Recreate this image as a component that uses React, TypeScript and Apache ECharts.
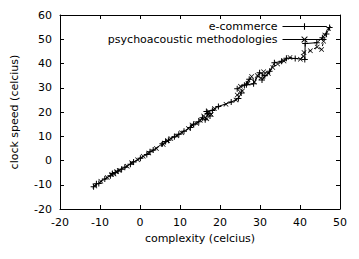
import React, { useEffect, useRef } from "react";
import * as echarts from "echarts";

const seriesNames = ["e-commerce", "psychoacoustic methodologies"];

const eCommerce: [number, number][] = [
  [-11.6, -10.8], [-10.9, -9.6], [-10.3, -9.5], [-8.8, -7.6], [-7.4, -6.3], [-6.9, -5.4],
  [-6.2, -5.0], [-5.5, -4.3], [-4.6, -3.6], [-3.8, -2.8], [-2.4, -1.5], [-1.6, -0.6],
  [0.1, 0.9], [1.7, 2.5], [2.5, 3.6], [3.3, 4.3], [5.6, 6.9], [6.4, 7.8], [7.1, 8.4],
  [8.6, 9.8], [9.7, 10.8], [11.0, 12.1], [12.6, 13.6], [13.4, 14.9], [14.7, 16.0],
  [15.6, 17.6], [16.3, 16.8], [16.9, 19.4], [17.5, 18.4], [16.6, 20.2], [18.1, 20.6],
  [19.6, 22.3], [22.8, 24.1], [24.6, 25.6], [25.3, 27.8], [24.3, 29.6], [26.1, 31.0],
  [27.3, 33.5], [26.6, 31.2], [28.4, 31.6], [29.9, 36.2], [31.2, 35.0], [30.5, 33.2],
  [32.4, 36.8], [33.6, 40.3], [35.4, 40.9], [36.6, 42.2], [38.8, 42.1], [41.2, 41.6],
  [41.3, 48.2], [44.2, 48.6], [45.6, 50.6], [46.6, 52.2], [47.4, 54.8],
];

const psychoacoustic: [number, number][] = [
  [-11.3, -10.5], [-9.8, -8.6], [-8.2, -7.0], [-7.1, -5.8], [-6.5, -5.6], [-5.9, -4.6],
  [-5.2, -4.1], [-3.2, -2.4], [-2.1, -0.9], [-0.6, 0.3], [0.8, 1.8], [2.2, 3.1],
  [4.1, 5.0], [5.8, 6.6], [6.9, 8.1], [7.7, 9.1], [9.2, 10.2], [10.4, 11.4], [12.1, 13.2],
  [13.0, 14.6], [14.2, 15.3], [15.1, 16.6], [15.9, 18.3], [16.7, 17.2], [17.3, 20.1],
  [17.8, 19.0], [18.6, 21.4], [21.5, 23.2], [24.0, 24.9], [24.3, 27.0], [25.6, 28.7],
  [25.1, 30.6], [27.0, 31.9], [27.9, 34.6], [28.6, 32.4], [29.3, 35.1], [30.2, 34.0],
  [30.9, 36.6], [32.1, 35.9], [33.2, 38.4], [34.4, 39.8], [36.0, 41.0], [37.5, 42.5],
  [40.1, 41.8], [40.8, 43.0], [41.0, 44.5], [42.6, 45.3], [44.3, 46.8], [45.4, 45.8],
  [45.9, 49.2], [46.2, 51.8], [47.1, 54.4],
];

const xTicks = { min: -20, max: 50, interval: 10 };
const yTicks = { min: -20, max: 60, interval: 10 };

const PLUS = "path://M2.5,0 H3.5 V2.5 H6 V3.5 H3.5 V6 H2.5 V3.5 H0 V2.5 H2.5 Z";
const CROSS =
  "path://M0,0.6 L0.6,0 L3,2.4 L5.4,0 L6,0.6 L3.6,3 L6,5.4 L5.4,6 L3,3.6 L0.6,6 L0,5.4 L2.4,3 Z";

const FONT = "DejaVu Sans";

export default function App() {
  const ref = useRef<HTMLDivElement>(null);
  useEffect(() => {
    if (!ref.current) return;
    const chart = echarts.init(ref.current, null, { renderer: "svg" });
    const axisCommon = {
      type: "value" as const,
      axisLine: { show: true, onZero: false, lineStyle: { color: "#000", width: 1 } },
      axisTick: { show: true, inside: true, length: 4, lineStyle: { color: "#000" } },
      splitLine: { show: false },
    };
    chart.setOption({
      animation: false,
      backgroundColor: "#fff",
      textStyle: { fontFamily: FONT },
      grid: { left: 60, top: 15, width: 280, height: 194, containLabel: false },
      legend: {
        orient: "vertical",
        right: 27,
        top: 16,
        align: "right",
        itemWidth: 44,
        itemHeight: 8,
        itemGap: 2,
        lineStyle: { width: 1, type: "solid", color: "#000" },
        textStyle: { fontFamily: FONT, fontSize: 11, color: "#000" },
        data: seriesNames,
      },
      xAxis: [
        {
          ...axisCommon,
          ...xTicks,
          position: "bottom",
          name: "complexity (celcius)",
          nameLocation: "middle",
          nameGap: 23,
          nameTextStyle: { fontFamily: FONT, fontSize: 11, color: "#000" },
          axisLabel: { color: "#000", fontFamily: FONT, fontSize: 11, margin: 8 },
        },
        {
          ...axisCommon,
          ...xTicks,
          position: "top",
          axisLabel: { show: false },
        },
      ],
      yAxis: [
        {
          ...axisCommon,
          ...yTicks,
          position: "left",
          name: "clock speed (celcius)",
          nameLocation: "middle",
          nameGap: 40,
          nameTextStyle: { fontFamily: FONT, fontSize: 11, color: "#000" },
          axisLabel: { color: "#000", fontFamily: FONT, fontSize: 11, margin: 8 },
        },
        {
          ...axisCommon,
          ...yTicks,
          position: "right",
          axisLabel: { show: false },
        },
      ],
      series: [
        {
          name: seriesNames[0],
          type: "line",
          data: eCommerce,
          symbol: PLUS,
          symbolSize: 6,
          itemStyle: { color: "#000" },
          lineStyle: { color: "#000", width: 1 },
        },
        {
          name: seriesNames[1],
          type: "line",
          data: psychoacoustic,
          symbol: CROSS,
          symbolSize: 5,
          itemStyle: { color: "#000" },
          lineStyle: { color: "#000", width: 1, type: [3, 3] },
        },
      ],
    });
    return () => chart.dispose();
  }, []);
  return <div ref={ref} style={{ width: 359, height: 259, position: "absolute", left: 0, top: 0 }} />;
}
